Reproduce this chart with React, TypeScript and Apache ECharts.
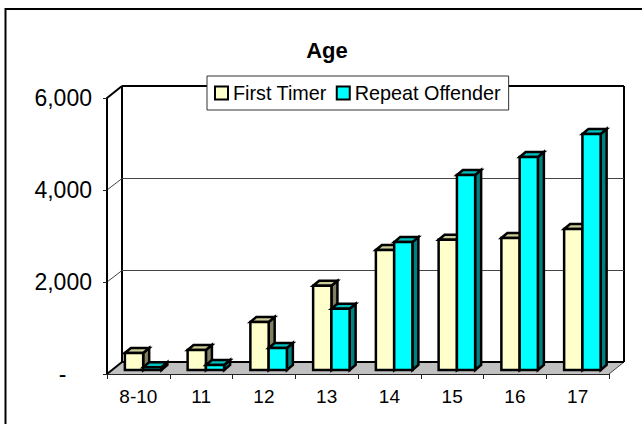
import React, { useEffect, useRef } from "react";
import * as echarts from "echarts";

const categories = ["8-10", "11", "12", "13", "14", "15", "16", "17"];
const firstTimer = [370, 435, 1045, 1830, 2610, 2830, 2870, 3065];
const repeatOffender = [60, 110, 480, 1330, 2780, 4240, 4630, 5130];
const yTicks = [0, 2000, 4000, 6000];

const FONT = "Liberation Sans, Arial, sans-serif";
const WALL_DX = 15;
const WALL_DY = -12;
const BAR_SHIFT_Y = -4;
const DEPTH_X = 6;
const DEPTH_Y = -5;

function barRenderer(x0: number, x1: number, face: string, top: string, side: string) {
  return (params: any, api: any) => {
    const p = api.coord([api.value(0), api.value(1)]);
    const base = api.coord([api.value(0), 0]);
    const l = p[0] + x0;
    const r = p[0] + x1;
    const t = p[1] + BAR_SHIFT_Y;
    const b = base[1] + BAR_SHIFT_Y;
    const stroke = { stroke: "#000", lineWidth: 2.5, lineJoin: "miter" };
    return {
      type: "group",
      children: [
        {
          type: "polygon",
          shape: { points: [[r, t], [r + DEPTH_X, t + DEPTH_Y], [r + DEPTH_X, b + DEPTH_Y], [r, b]] },
          style: { fill: side, ...stroke },
        },
        {
          type: "polygon",
          shape: { points: [[l, t], [l + DEPTH_X, t + DEPTH_Y], [r + DEPTH_X, t + DEPTH_Y], [r, t]] },
          style: { fill: top, ...stroke },
        },
        {
          type: "rect",
          shape: { x: l, y: t, width: r - l, height: b - t },
          style: { fill: face, ...stroke },
        },
      ],
    };
  };
}

function wallRenderer(params: any, api: any) {
  const v = api.value(0);
  const cs = params.coordSys;
  const y = api.coord([0, v])[1];
  const x0 = cs.x;
  const x1 = cs.x + cs.width;
  const heavy = v === 0 || v === 6000;
  const color = heavy ? "#000" : "#444";
  const lw = heavy ? 2 : 1;
  const snap = heavy ? 0 : 0.5;
  const children: any[] = [];
  if (v === 0) {
    children.push({
      type: "polygon",
      shape: { points: [[x0, y], [x1, y], [x1 + WALL_DX, y + WALL_DY], [x0 + WALL_DX, y + WALL_DY]] },
      style: { fill: "#c0c0c0", stroke: "none" },
    });
    children.push({
      type: "line",
      shape: { x1: x0 + WALL_DX, y1: cs.y + WALL_DY, x2: x0 + WALL_DX, y2: y + WALL_DY },
      style: { stroke: "#000", lineWidth: 2 },
    });
    children.push({
      type: "line",
      shape: { x1: x1 + WALL_DX, y1: cs.y + WALL_DY, x2: x1 + WALL_DX, y2: y + WALL_DY },
      style: { stroke: "#000", lineWidth: 2 },
    });
    children.push({
      type: "line",
      shape: { x1: x1, y1: y, x2: x1 + WALL_DX, y2: y + WALL_DY },
      style: { stroke: "#444", lineWidth: 1 },
    });
  }
  children.push({
    type: "line",
    shape: { x1: x0, y1: y, x2: x0 + WALL_DX, y2: y + WALL_DY + snap },
    style: { stroke: color, lineWidth: lw },
  });
  children.push({
    type: "line",
    shape: { x1: x0 + WALL_DX, y1: y + WALL_DY + snap, x2: x1 + WALL_DX, y2: y + WALL_DY + snap },
    style: { stroke: color, lineWidth: lw },
  });
  return { type: "group", children };
}

export default function App() {
  const ref = useRef<HTMLDivElement>(null);
  useEffect(() => {
    document.body.style.margin = "0";
    const chart = echarts.init(ref.current!, undefined, { renderer: "svg" });
    chart.setOption({
      animation: false,
      backgroundColor: "#fff",
      title: {
        text: "Age",
        left: 322,
        top: 34,
        textAlign: "center",
        textStyle: { fontFamily: FONT, fontSize: 22, fontWeight: "bold", color: "#000" },
      },
      legend: {
        left: 207,
        top: 76,
        padding: [7, 8, 7, 7],
        backgroundColor: "#fff",
        borderColor: "#333",
        borderWidth: 1,
        borderRadius: 0,
        z: 10,
        icon: "rect",
        itemWidth: 13,
        itemHeight: 13,
        itemGap: 9,
        itemStyle: { borderColor: "#000", borderWidth: 2 },
        data: ["First Timer", "Repeat Offender"],
        textStyle: { fontFamily: FONT, fontSize: 19.8, color: "#000", padding: [0, 0, 0, 0] },
      },
      grid: { left: 107, right: 33, top: 98, bottom: 50 },
      xAxis: {
        type: "category",
        data: categories,
        z: 5,
        axisLine: { lineStyle: { color: "#222", width: 1 } },
        axisTick: { show: true, length: 5, lineStyle: { color: "#222" } },
        axisLabel: { margin: 13, fontFamily: FONT, fontSize: 19, color: "#000" },
        splitLine: { show: false },
      },
      yAxis: {
        type: "value",
        min: 0,
        max: 6000,
        interval: 2000,
        z: 5,
        axisLine: { show: true, lineStyle: { color: "#000", width: 2 } },
        axisTick: { show: true, length: 4, lineStyle: { color: "#222" } },
        axisLabel: {
          margin: 15,
          fontFamily: FONT,
          fontSize: 23,
          color: "#000",
          formatter: (v: number) => (v === 0 ? "-\u00a0\u00a0\u00a0\u00a0" : v.toLocaleString("en-US")),
        },
        splitLine: { show: false },
      },
      series: [
        {
          type: "custom",
          name: "walls",
          coordinateSystem: "cartesian2d",
          clip: false,
          silent: true,
          z: 1,
          data: yTicks.map((v) => [v]),
          encode: { y: 0 },
          renderItem: wallRenderer,
        },
        {
          type: "custom",
          name: "First Timer",
          coordinateSystem: "cartesian2d",
          clip: false,
          z: 3,
          itemStyle: { color: "#ffffcc", borderColor: "#000", borderWidth: 2 },
          data: categories.map((c, i) => [i, firstTimer[i]]),
          encode: { x: 0, y: 1 },
          renderItem: barRenderer(-13.5, 4.8, "#ffffcc", "#cccc99", "#808060"),
        },
        {
          type: "custom",
          name: "Repeat Offender",
          coordinateSystem: "cartesian2d",
          clip: false,
          z: 4,
          itemStyle: { color: "#00ffff", borderColor: "#000", borderWidth: 2 },
          data: categories.map((c, i) => [i, repeatOffender[i]]),
          encode: { x: 0, y: 1 },
          renderItem: barRenderer(4.8, 23, "#00ffff", "#00bfbf", "#008080"),
        },
      ],
      graphic: [
        { type: "line", shape: { x1: 5.5, y1: 9, x2: 642, y2: 9 }, style: { stroke: "#000", lineWidth: 2 } },
        { type: "line", shape: { x1: 5.5, y1: 8, x2: 5.5, y2: 424 }, style: { stroke: "#000", lineWidth: 2 } },
      ],
    });
    return () => chart.dispose();
  }, []);
  return <div ref={ref} style={{ position: "fixed", left: 0, top: 0, width: 642, height: 424 }} />;
}
